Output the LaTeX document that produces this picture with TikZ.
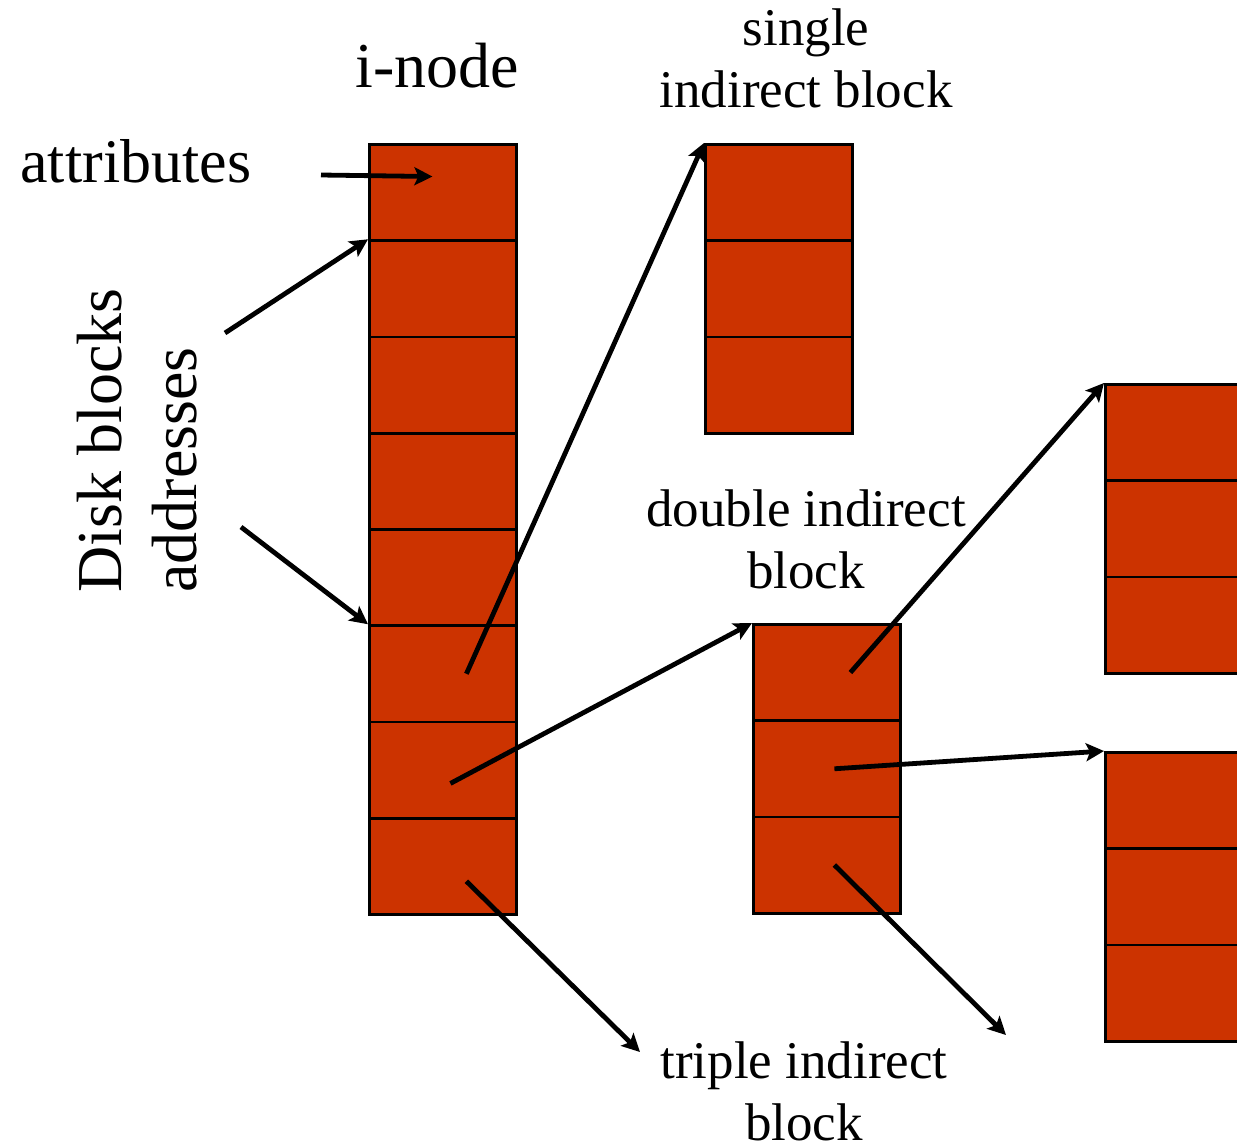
\documentclass[tikz,border=0pt]{standalone}
\usepackage{fontspec}
\setmainfont{Liberation Serif}
\usetikzlibrary{arrows.meta, positioning}
\definecolor{blockred}{RGB}{204, 51, 0}

\tikzset{
  cell/.style={draw=black, fill=blockred, line width=1.4pt, minimum width=73.5pt, minimum height=48.125pt, inner sep=0pt, anchor=north west},
  ptr/.style={-{Stealth[length=9pt, width=9pt, inset=2pt]}, line width=2.4pt},
  biglbl/.style={font=\fontsize{32}{38}\selectfont, inner sep=0pt},
  lbl/.style={font=\fontsize{26.5}{31}\selectfont, align=center, anchor=base, inner sep=0pt}
}

\begin{document}
\begin{tikzpicture}[x=0.5pt, y=-0.5pt]
  \clip (0,0) rectangle (1237,1147);

  % i-node
  \foreach \i in {0,...,7}
    \node[cell] (in\i) at (368, {143+96.25*\i}) {};

  % single indirect block
  \foreach \i in {0,1,2}
    \node[cell] (sg\i) at (704, {143+96.25*\i}) {};

  % double indirect block
  \foreach \i in {0,1,2}
    \node[cell] (db\i) at (752, {623+96.25*\i}) {};

  % blocks on the right
  \foreach \i in {0,1,2}
    \node[cell] (rt\i) at (1104, {383+96.25*\i}) {};
  \foreach \i in {0,1,2}
    \node[cell] (rb\i) at (1104, {751+96.25*\i}) {};

  % labels
  \node[biglbl, anchor=base] (inodelbl) at (437,87) {i-node};
  \node[biglbl, font=\fontsize{31}{37}\selectfont, anchor=base west] (attrlbl) at (20,182) {attributes};
  \node[biglbl, rotate=90, align=left, font=\fontsize{32}{37.5}\selectfont, anchor=west] (disklbl) at (137,593) {Disk blocks\\addresses};
  \node[lbl] (singlelbl) at (806,107) {single\\indirect block};
  \node[lbl] (doublelbl) at (806,588) {double indirect\\block};
  \node[lbl] (triplelbl) at (804,1140) {triple indirect\\block};

  % pointers
  \coordinate (attrtail) at (321,175);
  \draw[ptr] (attrtail) -- ([xshift=-5.25pt, yshift=8pt]in0.center);
  \coordinate (disktop) at (225,333);
  \draw[ptr] (disktop) -- (in1.north west);
  \coordinate (diskbot) at (241,527);
  \draw[ptr] (diskbot) -- (in5.north west);

  \draw[ptr] ([xshift=11.75pt]in5.center) -- (sg0.north west);
  \draw[ptr] ([xshift=3.75pt, yshift=-6.7pt]in6.center) -- (db0.north west);
  \coordinate (inhead) at (640,1052);
  \draw[ptr] ([xshift=11.75pt, yshift=-7.5pt]in7.center) -- (inhead);

  \draw[ptr] ([xshift=11.75pt]db0.center) -- (rt0.north west);
  \draw[ptr] ([xshift=3.75pt]db1.center) -- (rb0.north west);
  \coordinate (dbhead) at (1006,1035);
  \draw[ptr] ([xshift=3.75pt]db2.center) -- (dbhead);
\end{tikzpicture}
\end{document}
